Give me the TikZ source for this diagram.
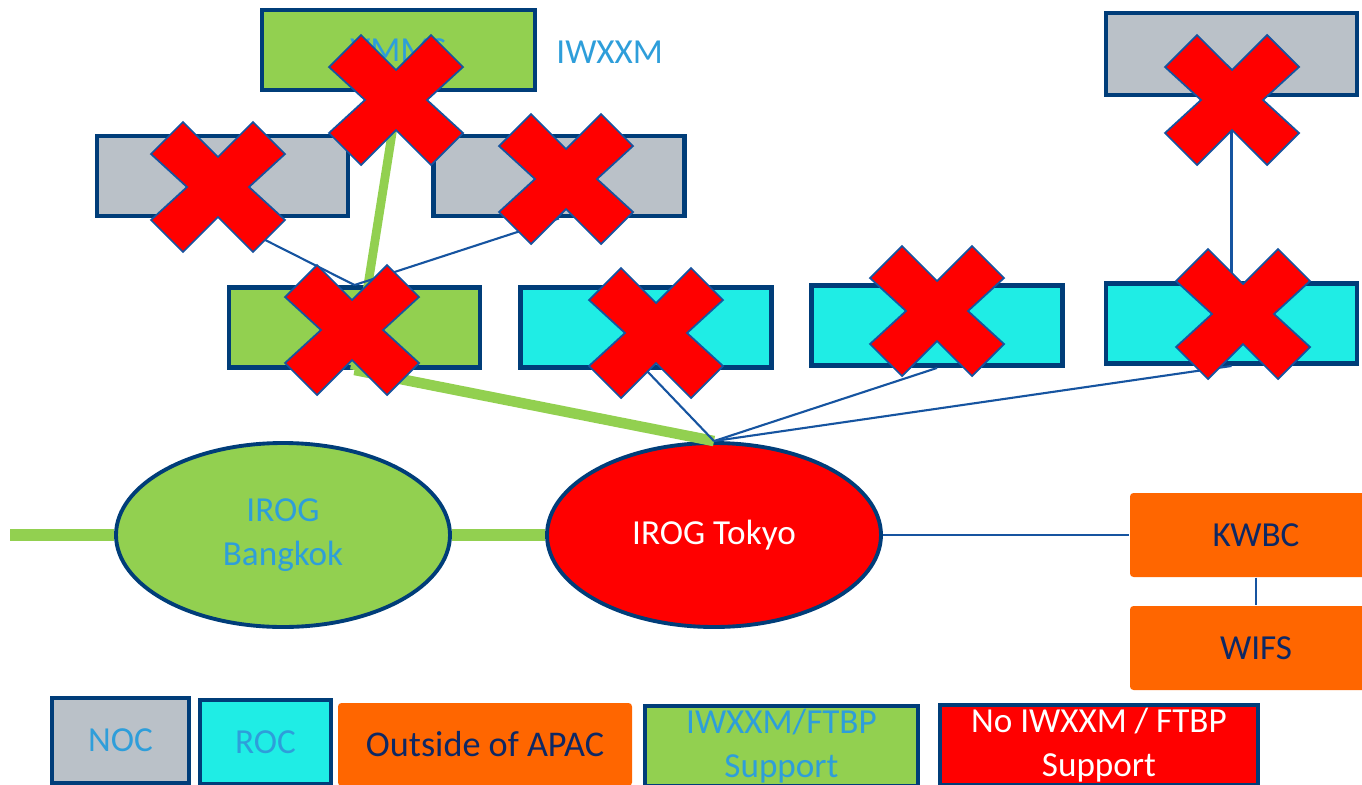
\documentclass[tikz,border=0pt]{standalone}
\usepackage{fontspec}
\setmainfont{Carlito}
\usepackage{tikz}
\usetikzlibrary{positioning,calc,shapes.geometric}

\definecolor{navy}{RGB}{0,61,121}
\definecolor{nocgray}{RGB}{186,193,200}
\definecolor{roccyan}{RGB}{31,237,229}
\definecolor{okgreen}{RGB}{146,208,80}
\definecolor{outorange}{RGB}{255,102,0}
\definecolor{labelblue}{RGB}{46,158,218}
\definecolor{linkblue}{RGB}{22,84,160}
\definecolor{darktext}{RGB}{14,40,100}

\tikzset{
  centre/.style={rectangle, draw=navy, line width=1.4pt, minimum width=2.51cm, minimum height=0.80cm, inner sep=0pt, text=labelblue, font=\fontsize{10}{12.2}\selectfont},
  noc/.style={centre, fill=nocgray},
  roc/.style={centre, fill=roccyan},
  wxok/.style={centre, fill=okgreen},
  outside/.style={rectangle, fill=outorange, rounded corners=1pt, minimum width=2.52cm, minimum height=0.84cm, inner sep=0pt, text=darktext, font=\fontsize{10}{12.2}\selectfont},
  irog/.style={ellipse, draw=navy, line width=1.1pt, minimum width=3.34cm, minimum height=1.84cm, inner sep=0pt, align=center, font=\fontsize{10}{12.4}\selectfont},
  link/.style={draw=linkblue, line width=0.6pt},
  wxlink/.style={draw=okgreen, line width=2.5pt},
  wxtrunk/.style={draw=okgreen, line width=3.4pt},
  crossmark/.style={fill=red, draw=linkblue, line width=0.5pt, line join=miter},
  legend/.style={rectangle, draw=navy, line width=1.4pt, inner sep=0pt, align=center, font=\fontsize{10}{12.4}\selectfont}
}

% red X laid over a centre that is out of service
\newcommand{\nogo}[1]{%
  \draw[crossmark, shift={#1}] (0,0.30) -- (0.35,0.65) -- (0.67,0.33) -- (0.31,0)
    -- (0.67,-0.33) -- (0.35,-0.65) -- (0,-0.30) -- (-0.35,-0.65) -- (-0.67,-0.33)
    -- (-0.31,0) -- (-0.67,0.33) -- (-0.35,0.65) -- cycle;}

\begin{document}
\begin{tikzpicture}
  \useasboundingbox (0,0) rectangle (13.62,7.84);

  % centres
  \node[wxok, minimum width=2.73cm] (vmms) at (3.985,7.34) {VMMS};
  \node[text=labelblue, anchor=west, font=\fontsize{10}{12}\selectfont] (iwxxm) at (5.44,7.32) {IWXXM};
  \node[noc] (nocA) at (2.225,6.08) {};
  \node[noc] (nocB) at (5.59,6.08) {};
  \node[noc, minimum height=0.82cm] (nocC) at (12.315,7.30) {};

  \node[wxok] (rocA) at (3.545,4.565) {};
  \node[roc] (rocB) at (6.46,4.565) {};
  \node[roc] (rocC) at (9.37,4.585) {};
  \node[roc] (rocD) at (12.315,4.605) {};

  \node[irog, fill=okgreen, text=labelblue] (bkk) at (2.83,2.49) {IROG\\Bangkok};
  \node[irog, fill=red, text=white] (tyo) at (7.14,2.49) {IROG Tokyo};
  \coordinate (west) at (0.10,2.49);

  \node[outside] (kwbc) at (12.56,2.49) {KWBC};
  \node[outside] (wifs) at (12.56,1.36) {WIFS};

  % links
  \draw[wxtrunk] (west) -- (bkk.west);
  \draw[wxtrunk] (bkk.east) -- (tyo.west);
  \draw[wxlink] (vmms.south) -- (rocA.south);
  \draw[wxlink, line width=3pt] (rocA.south) -- (tyo.north);
  \draw[link] (nocA.south) -- (rocA.north);
  \draw[link] (nocB.south) -- (rocA.north);
  \draw[link] (rocB.south) -- (tyo.north);
  \draw[link] (rocC.south) -- (tyo.north);
  \draw[link] (rocD.south) -- (tyo.north);
  \draw[link] (nocC.south) -- (rocD.north);
  \draw[link] (tyo.east) -- (kwbc.west);
  \draw[link] (kwbc.south) -- (wifs.north);

  % crosses
  \nogo{(3.96,6.84)}
  \nogo{(2.18,5.97)}
  \nogo{(5.66,6.05)}
  \nogo{(12.32,6.84)}
  \nogo{(3.52,4.54)}
  \nogo{(6.56,4.51)}
  \nogo{(9.37,4.73)}
  \nogo{(12.43,4.70)}

  % legend
  \node[legend, fill=nocgray, text=labelblue, minimum width=1.37cm, minimum height=0.85cm] (keynoc) at (1.205,0.435) {NOC};
  \node[legend, fill=roccyan, text=labelblue, minimum width=1.31cm, minimum height=0.84cm] (keyroc) at (2.655,0.42) {ROC};
  \node[outside, minimum width=2.94cm, minimum height=0.83cm, font=\fontsize{10.3}{12.4}\selectfont] (keyout) at (4.85,0.395) {Outside of APAC};
  \node[legend, fill=okgreen, text=labelblue, minimum width=2.73cm, minimum height=0.80cm] (keyok) at (7.815,0.38) {IWXXM/FTBP\\Support};
  \node[legend, fill=red, text=white, minimum width=3.18cm, minimum height=0.80cm] (keyno) at (10.99,0.39) {No IWXXM / FTBP\\Support};
\end{tikzpicture}
\end{document}
